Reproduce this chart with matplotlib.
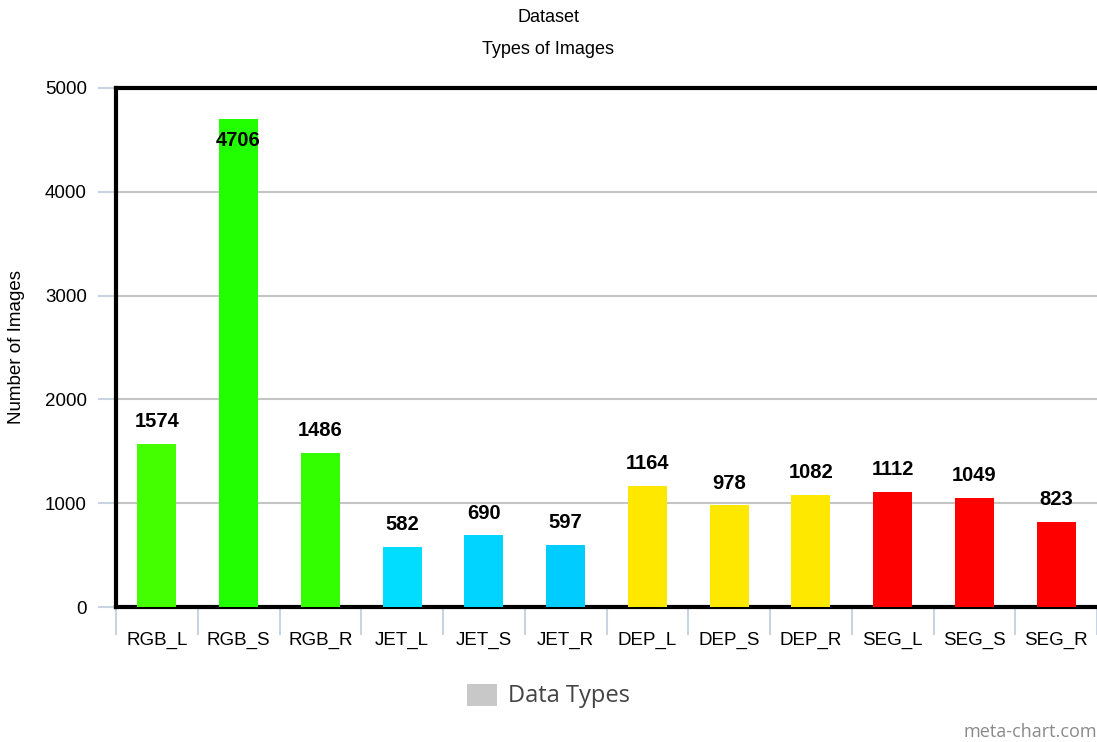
import matplotlib.pyplot as plt
from matplotlib.patches import Rectangle

# Image counts per data type
categories = ["RGB_L", "RGB_S", "RGB_R", "JET_L", "JET_S", "JET_R",
              "DEP_L", "DEP_S", "DEP_R", "SEG_L", "SEG_S", "SEG_R"]
counts = [1574, 4706, 1486, 582, 690, 597, 1164, 978, 1082, 1112, 1049, 823]
colors = ["#44ff00", "#22ff00", "#33ff00", "#00ddff", "#00d4ff", "#00ccff",
          "#ffe800", "#ffe800", "#ffe800", "#ff0000", "#ff0000", "#ff0000"]
y_ticks = [0, 1000, 2000, 3000, 4000, 5000]

plt.rcParams['font.family'] = ['Liberation Sans', 'DejaVu Sans']

fig = plt.figure(figsize=(10.97, 7.42), dpi=100)
ax = fig.add_axes([116 / 1097, 1 - 607 / 742, 981 / 1097, 519 / 742])

x = list(range(len(categories)))
ax.bar(x, counts, width=0.48, color=colors, zorder=3)

ax.set_xlim(-0.5, len(categories) - 0.5)
ax.set_ylim(0, 5000)

# value labels, moved inside the bar when there is no room above
for xi, v in zip(x, counts):
    dy = -16 if v > 4500 else 16
    ax.annotate(str(v), (xi, v), xytext=(0, dy), textcoords="offset points",
                ha="center", va="center", fontsize=14.5, fontweight="bold", zorder=4)

ax.set_yticks(y_ticks)
ax.yaxis.grid(True, color="#c4c4c4", linewidth=1.5, zorder=0)
ax.tick_params(axis="y", length=13, width=1.5, color="#c8d4e2", labelsize=13.5, pad=8)

ax.set_xticks(x)
ax.set_xticklabels(categories)
ax.set_xticks([i - 0.5 for i in range(len(categories) + 1)], minor=True)
ax.tick_params(axis="x", which="major", length=0, labelsize=13.5, pad=18)
ax.tick_params(axis="x", which="minor", length=20, width=1.5, color="#c8d4e2")

for side in ["left", "bottom", "top"]:
    ax.spines[side].set_linewidth(3)
    ax.spines[side].set_color("black")
ax.spines["right"].set_visible(False)

ax.set_ylabel("Number of Images", fontsize=13.5, labelpad=14)

fig.text(0.5, 1 - 17 / 742, "Dataset", ha="center", va="center", fontsize=13)
fig.text(0.5, 1 - 50 / 742, "Types of Images", ha="center", va="center", fontsize=13)

# legend swatch and label
fig.patches.append(Rectangle((467 / 1097, 1 - 706 / 742), 30 / 1097, 22 / 742,
                             transform=fig.transFigure, facecolor="#c8c8c8",
                             edgecolor="none"))
fig.text(508 / 1097, 1 - 696 / 742, "Data Types", ha="left", va="center",
         fontsize=17, color="#444444", family="Open Sans")

fig.text(1097 / 1097, 1 - 732 / 742, "meta-chart.com", ha="right", va="center",
         fontsize=13, color="#8a8a8a", family="Open Sans")

fig.savefig("out.png", dpi=100)
